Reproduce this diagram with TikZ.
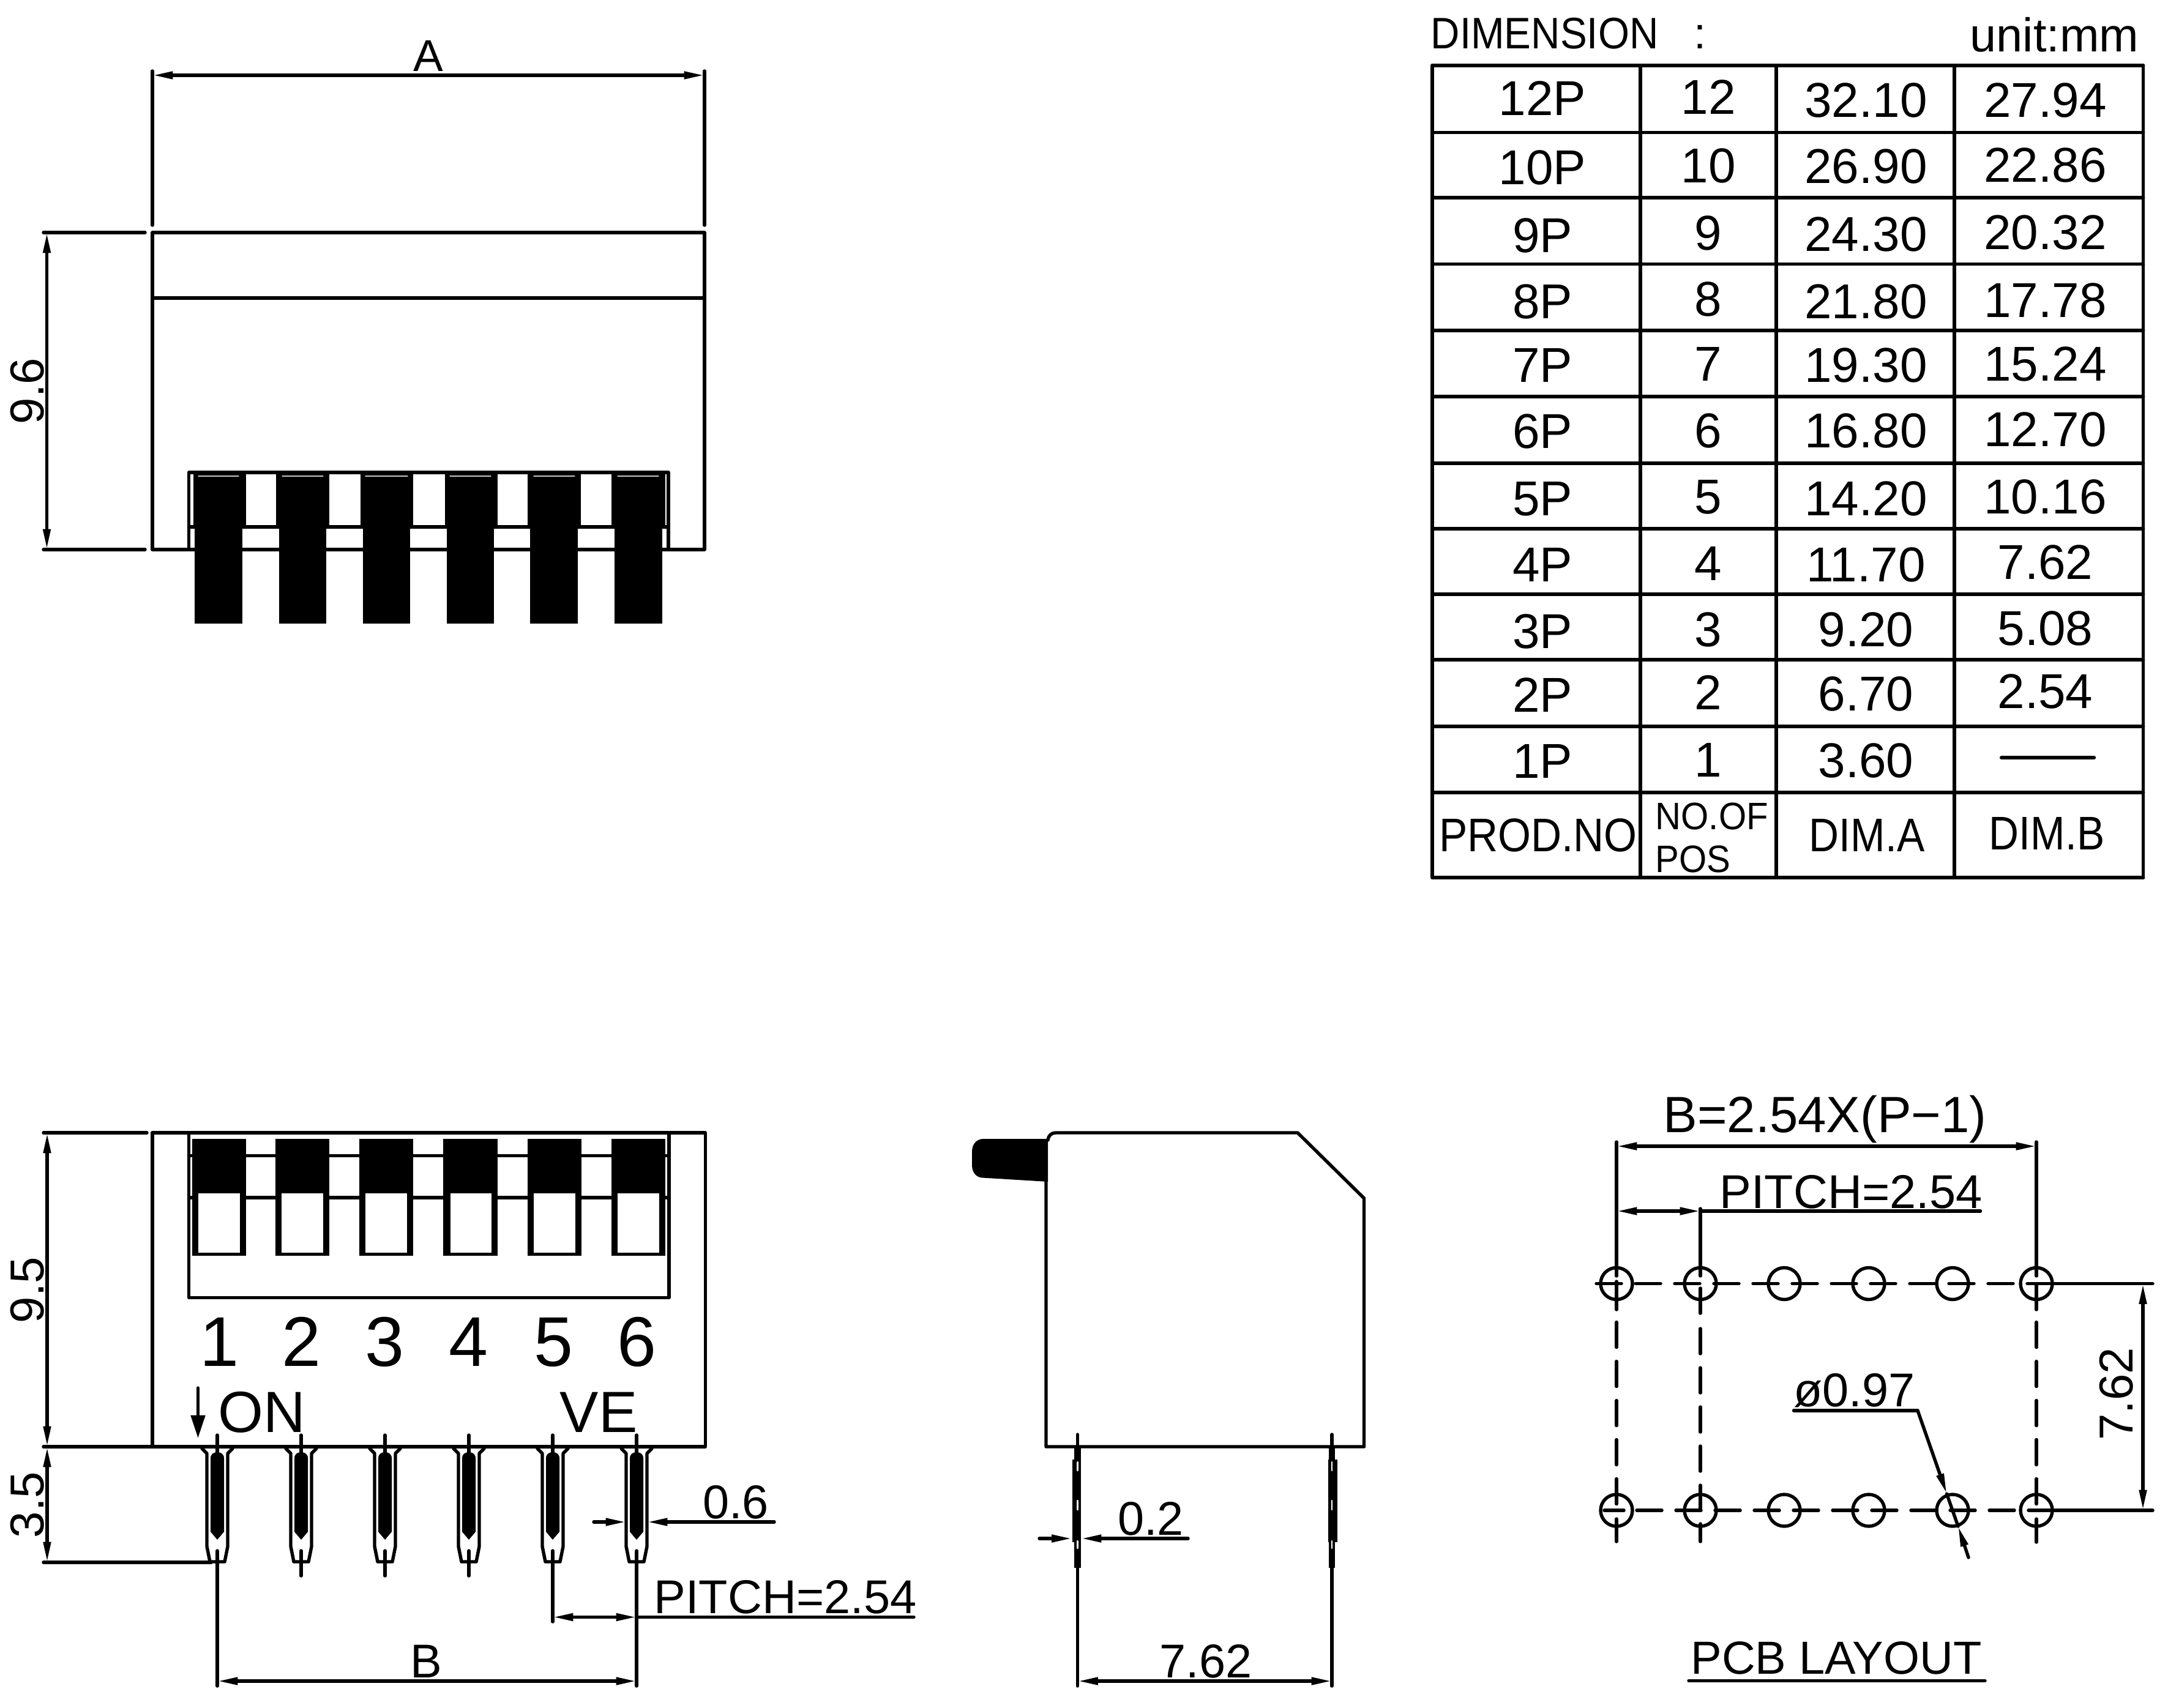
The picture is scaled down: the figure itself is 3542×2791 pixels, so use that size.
\documentclass[tikz,border=0pt]{standalone}
\usepackage{fontspec}
\usepackage{graphicx}
\setmainfont{Liberation Sans}
\usetikzlibrary{arrows.meta}

\tikzset{every picture/.style={line width=1.3pt,line cap=round,line join=round}}
\tikzset{
  dimline/.style={{Triangle[length=8pt,width=2.8pt]}-{Triangle[length=8pt,width=2.8pt]}},
  onetip/.style={-{Triangle[length=8pt,width=2.8pt]}},
  bigtip/.style={-{Triangle[length=9pt,width=5.5pt]}},
  centerline/.style={dash pattern=on 9.84pt off 5.52pt},
  tableline/.style={line width=1.35pt},
  tabletext/.style={anchor=base,inner sep=0pt,font=\fontsize{19.2}{19.2}\selectfont},
  dimtext/.style={anchor=base,inner sep=0pt,font=\fontsize{18.6}{18.6}\selectfont},
  sidetext/.style={anchor=center,inner sep=0pt,rotate=90,font=\fontsize{18.7}{18.7}\selectfont},
  digittext/.style={anchor=base,inner sep=0pt,font=\fontsize{27.6}{27.6}\selectfont},
  marktext/.style={anchor=base west,inner sep=0pt,font=\fontsize{22.8}{22.8}\selectfont},
  glint/.style={line width=0.3pt,draw=gray!45},
  pinglint/.style={line width=0.6pt,draw=white}
}

\begin{document}
\begin{tikzpicture}[x=0.24pt,y=0.24pt,yscale=-1]
\useasboundingbox (0,0) rectangle (3542,2791);

%Top view: body
\draw    (249,380) -- (1151,380) -- (1151,898) -- (249,898) -- cycle ;
\draw    (249,487) -- (1151,487) ;
%Top view: dimensions
\draw    (249,116) -- (249,368) ;
\draw    (1151,116) -- (1151,368) ;
\draw [dimline]   (249,123) -- (1151,123) ;
\draw    (71,380) -- (237,380) ;
\draw    (71,898) -- (237,898) ;
\draw [dimline]   (76.5,380) -- (76.5,898) ;
%Top view: switch frame
\draw    (308.5,898) -- (308.5,772) -- (1092,772) -- (1092,898) ;
\draw    (308.5,861) -- (1092,861) ;
%Top view: levers
\fill (316,772) rectangle (402,861) ;
\fill (451,772) rectangle (538,861) ;
\fill (589,772) rectangle (675,861) ;
\fill (727,772) rectangle (813,861) ;
\fill (862,772) rectangle (949,861) ;
\fill (999,772) rectangle (1087,861) ;
\fill (318,861) rectangle (396,1019) ;
\fill (456,861) rectangle (533,1019) ;
\fill (593,861) rectangle (670,1019) ;
\fill (730,861) rectangle (807,1019) ;
\fill (866,861) rectangle (944,1019) ;
\fill (1004,861) rectangle (1082,1019) ;
\draw [glint]   (324,778) -- (390,778) ;
\draw [glint]   (461,778) -- (528,778) ;
\draw [glint]   (597,778) -- (666,778) ;
\draw [glint]   (735,778) -- (802,778) ;
\draw [glint]   (872,778) -- (939,778) ;
\draw [glint]   (1009,778) -- (1076,778) ;

%Front view: body
\draw    (249,1851) -- (1152.5,1851) -- (1152.5,2364) -- (71,2364) ;
\draw    (249,1851) -- (249,2364) ;
\draw    (71,1851) -- (240,1851) ;
\draw [dimline]   (77,1851) -- (77,2364) ;
\draw [dimline]   (77,2364) -- (77,2553) ;
\draw    (71,2553) -- (345,2553) ;
%Front view: switch frame
\draw    (308.5,1851) -- (308.5,2120.5) -- (1093,2120.5) -- (1093,1851) ;
\draw    (308.5,1888.5) -- (1093,1888.5) ;
\draw    (308.5,1957) -- (1093,1957) ;
%Front view: sliders
\fill (313.5,1861) rectangle (401.5,2052) ;
\fill (450,1861) rectangle (538,2052) ;
\fill (587,1861) rectangle (675,2052) ;
\fill (724,1861) rectangle (812.5,2052) ;
\fill (862,1861) rectangle (950,2052) ;
\fill (999,1861) rectangle (1087,2052) ;
\fill [white] (323.5,1950) rectangle (391.5,2047) ;
\fill [white] (460,1950) rectangle (528,2047) ;
\fill [white] (597,1950) rectangle (665,2047) ;
\fill [white] (735.5,1950) rectangle (802.5,2047) ;
\fill [white] (872,1950) rectangle (940,2047) ;
\fill [white] (1009,1950) rectangle (1077,2047) ;
%Front view: arrow
\draw [bigtip]   (323.5,2268) -- (323.5,2350) ;
%Front view: pins
\draw    (330,2367) -- (338,2375) -- (338,2527) -- (343,2552) -- (367,2552) -- (372,2527) -- (372,2375) -- (380,2367) ;
\draw    (467,2367) -- (475,2375) -- (475,2527) -- (480,2552) -- (504,2552) -- (509,2527) -- (509,2375) -- (517,2367) ;
\draw    (604,2367) -- (612,2375) -- (612,2527) -- (617,2552) -- (641,2552) -- (646,2527) -- (646,2375) -- (654,2367) ;
\draw    (741,2367) -- (749,2375) -- (749,2527) -- (754,2552) -- (778,2552) -- (783,2527) -- (783,2375) -- (791,2367) ;
\draw    (878,2367) -- (886,2375) -- (886,2527) -- (891,2552) -- (915,2552) -- (920,2527) -- (920,2375) -- (928,2367) ;
\draw    (1015,2367) -- (1023,2375) -- (1023,2527) -- (1028,2552) -- (1052,2552) -- (1057,2527) -- (1057,2375) -- (1065,2367) ;
\fill (344,2383) .. controls (344,2376) and (349,2373) .. (355,2373) .. controls (361,2373) and (366,2376) .. (366,2383) -- (366,2503) -- (355,2516) -- (344,2503) -- cycle ;
\fill (481,2383) .. controls (481,2376) and (486,2373) .. (492,2373) .. controls (498,2373) and (503,2376) .. (503,2383) -- (503,2503) -- (492,2516) -- (481,2503) -- cycle ;
\fill (618,2383) .. controls (618,2376) and (623,2373) .. (629,2373) .. controls (635,2373) and (640,2376) .. (640,2383) -- (640,2503) -- (629,2516) -- (618,2503) -- cycle ;
\fill (755,2383) .. controls (755,2376) and (760,2373) .. (766,2373) .. controls (772,2373) and (777,2376) .. (777,2383) -- (777,2503) -- (766,2516) -- (755,2503) -- cycle ;
\fill (892,2383) .. controls (892,2376) and (897,2373) .. (903,2373) .. controls (909,2373) and (914,2376) .. (914,2383) -- (914,2503) -- (903,2516) -- (892,2503) -- cycle ;
\fill (1029,2383) .. controls (1029,2376) and (1034,2373) .. (1040,2373) .. controls (1046,2373) and (1051,2376) .. (1051,2383) -- (1051,2503) -- (1040,2516) -- (1029,2503) -- cycle ;
\draw    (355,2345) -- (355,2375) ;
\draw    (492,2345) -- (492,2375) ;
\draw    (629,2345) -- (629,2375) ;
\draw    (766,2345) -- (766,2375) ;
\draw    (903,2345) -- (903,2375) ;
\draw    (1040,2345) -- (1040,2375) ;
\draw    (355,2534) -- (355,2755) ;
\draw    (492,2534) -- (492,2575) ;
\draw    (629,2534) -- (629,2575) ;
\draw    (766,2534) -- (766,2575) ;
\draw    (903,2534) -- (903,2650) ;
\draw    (1040,2534) -- (1040,2755) ;
%Front view: dimensions
\draw [dimline]   (355,2747) -- (1040,2747) ;
\draw [dimline]   (903,2642.5) -- (1040,2642.5) ;
\draw    (1040,2642.5) -- (1493,2642.5) ;
\draw [onetip]   (970,2487) -- (1023,2487) ;
\draw [onetip]   (1265,2487) -- (1057,2487) ;

%Side view: body
\draw    (1712,1863) .. controls (1713,1855) and (1718,1851) .. (1725,1851) -- (2120,1851) -- (2228.5,1958) -- (2228.5,2364) -- (1709,2364) -- (1709,1931) ;
\fill (1712,1861) -- (1607,1861) .. controls (1595,1861) and (1588,1870) .. (1588,1882) -- (1588,1904) .. controls (1588,1916) and (1595,1924) .. (1605,1924.5) -- (1712,1931) -- cycle ;
%Side view: pins
\draw    (1760.5,2344) -- (1760.5,2755) ;
\draw    (2176,2344) -- (2176,2755) ;
\fill (1755,2364) rectangle (1766,2562) ;
\fill (1751.5,2385) rectangle (1766,2520) ;
\fill (2171,2364) rectangle (2181,2562) ;
\fill (2170,2385) rectangle (2185,2520) ;
\draw [pinglint]   (1760.5,2389) -- (1760.5,2403) ;
\draw [pinglint]   (1760.5,2452) -- (1760.5,2467) ;
\draw [pinglint]   (1760.5,2518) -- (1760.5,2530) ;
\draw [pinglint]   (2176,2389) -- (2176,2403) ;
\draw [pinglint]   (2176,2452) -- (2176,2467) ;
\draw [pinglint]   (2176,2518) -- (2176,2530) ;
%Side view: dimensions
\draw [onetip]   (1698,2514) -- (1751.5,2514) ;
\draw [onetip]   (1941,2514) -- (1766,2514) ;
\draw [dimline]   (1760.5,2747) -- (2176,2747) ;

%Pcb layout: holes
\draw    (2641,2097.5) circle (26) ;
\draw    (2778,2097.5) circle (26) ;
\draw    (2915,2097.5) circle (26) ;
\draw    (3053,2097.5) circle (26) ;
\draw    (3190,2097.5) circle (26) ;
\draw    (3327,2097.5) circle (26) ;
\draw    (2641,2468) circle (26) ;
\draw    (2778,2468) circle (26) ;
\draw    (2915,2468) circle (26) ;
\draw    (3053,2468) circle (26) ;
\draw    (3190,2468) circle (26) ;
\draw    (3327,2468) circle (26) ;
%Pcb layout: centre lines
\draw [centerline]   (2608,2097.5) -- (3327,2097.5) ;
\draw    (3327,2097.5) -- (3517,2097.5) ;
\draw    (2621,2468) -- (2653,2468) ;
\draw [centerline]   (2674,2468) -- (3327,2468) ;
\draw    (3327,2468) -- (3517,2468) ;
\draw    (2641,1866) -- (2641,2085) ;
\draw    (2641,2094) -- (2641,2140) ;
\draw [centerline]   (2641,2160.5) -- (2641,2462) ;
\draw    (2641,2482) -- (2641,2519) ;
\draw    (2778,1975) -- (2778,2085) ;
\draw    (2778,2105) -- (2778,2146) ;
\draw [centerline]   (2778,2171) -- (2778,2467) ;
\draw    (2778,2490) -- (2778,2519) ;
\draw    (3327,1866) -- (3327,2085) ;
\draw    (3327,2100) -- (3327,2140) ;
\draw [centerline]   (3327,2160.5) -- (3327,2462) ;
\draw    (3327,2482) -- (3327,2520) ;
%Pcb layout: dimensions
\draw [dimline]   (2641,1873) -- (3327,1873) ;
\draw [dimline]   (2641,1979) -- (2778,1979) ;
\draw    (2778,1979) -- (3235.5,1979) ;
\draw [dimline]   (3501,2097.5) -- (3501,2468) ;
\draw    (2930.5,2305) -- (3133,2305) ;
\draw [onetip]   (3133,2305) -- (3180.5,2441) ;
\draw    (3180.5,2441) -- (3199,2494) ;
\draw [onetip]   (3216,2545) -- (3199,2494) ;
\draw    (2759,2746.5) -- (3243,2746.5) ;

%Table: rules
\draw [tableline]   (2340,107) -- (3501.5,107) ;
\draw [tableline]   (2340,216.5) -- (3501.5,216.5) ;
\draw [tableline]   (2340,323) -- (3501.5,323) ;
\draw [tableline]   (2340,431.5) -- (3501.5,431.5) ;
\draw [tableline]   (2340,540) -- (3501.5,540) ;
\draw [tableline]   (2340,648) -- (3501.5,648) ;
\draw [tableline]   (2340,757) -- (3501.5,757) ;
\draw [tableline]   (2340,864) -- (3501.5,864) ;
\draw [tableline]   (2340,971) -- (3501.5,971) ;
\draw [tableline]   (2340,1078) -- (3501.5,1078) ;
\draw [tableline]   (2340,1187) -- (3501.5,1187) ;
\draw [tableline]   (2340,1295) -- (3501.5,1295) ;
\draw [tableline]   (2340,1434) -- (3501.5,1434) ;
\draw [tableline]   (2340,107) -- (2340,1434) ;
\draw [tableline]   (2680,107) -- (2680,1434) ;
\draw [tableline]   (2902,107) -- (2902,1434) ;
\draw [tableline]   (3193,107) -- (3193,1434) ;
\draw [tableline]   (3501.5,107) -- (3501.5,1434) ;
\draw [line width=1.5pt]   (3270,1238) -- (3421,1238) ;

% Text Node
\draw (700,116.5) node (dimA) [dimtext,font=\fontsize{17.5}{17.5}\selectfont] {A};
\draw (45,639) node (topheight) [sidetext] {9.6};
\draw (45,2108) node (frontheight) [sidetext] {9.5};
\draw (45,2459) node (pinlength) [sidetext] {3.5};
% Text Node
\draw (358,2232) node (num1) [digittext] {1};
\draw (492,2232) node (num2) [digittext] {2};
\draw (628.5,2232) node (num3) [digittext] {3};
\draw (765,2232) node (num4) [digittext] {4};
\draw (904,2232) node (num5) [digittext] {5};
\draw (1040,2232) node (num6) [digittext] {6};
\draw (354,2340) node (markon) [marktext] {ON};
\draw (912,2340) node (markve) [marktext] {VE};
% Text Node
\draw (1202,2481) node (pinwidth) [dimtext] {0.6};
\draw (1066,2636.5) node (frontpitch) [dimtext,anchor=base west] {PITCH=2.54};
\draw (696.5,2741) node (dimB) [dimtext] {B};
\draw (1880,2508) node (pinthick) [dimtext] {0.2};
\draw (1970,2741) node (sidepitch) [dimtext] {7.62};
% Text Node
\draw (2981.5,1850) node (pcbformula) [dimtext,font=\fontsize{20}{20}\selectfont] {B=2.54X(P−1)};
\draw (3024,1974) node (pcbpitch) [dimtext] {PITCH=2.54};
\draw (3029.5,2298) node (pcbhole) [dimtext] {ø0.97};
\draw (3458,2278) node (pcbrow) [sidetext] {7.62};
\draw (3000,2735) node (pcbtitle) [dimtext,font=\fontsize{18.2}{18.2}\selectfont] {PCB LAYOUT};
% Text Node
\draw (2335,80) node (tabletitle) [tabletext,anchor=base west,font=\fontsize{17.3}{17.3}\selectfont] {\scalebox{0.91}[1]{DIMENSION}};
\draw (2777.5,80) node (tablecolon) [tabletext,font=\fontsize{17.3}{17.3}\selectfont] {:};
\draw (3497,85) node (tableunit) [tabletext,anchor=base east,font=\fontsize{18.6}{18.6}\selectfont] {unit:mm};
% Text Node
\draw (2520,189) node (r12a) [tabletext] {12P};
\draw (2791,187) node (r12b) [tabletext] {12};
\draw (3048.5,191.5) node (r12c) [tabletext] {32.10};
\draw (3341.5,191.5) node (r12d) [tabletext] {27.94};
\draw (2520,301.5) node (r10a) [tabletext] {10P};
\draw (2791,299) node (r10b) [tabletext] {10};
\draw (3048.5,300) node (r10c) [tabletext] {26.90};
\draw (3341.5,297.5) node (r10d) [tabletext] {22.86};
\draw (2520,412.5) node (r9a) [tabletext] {9P};
\draw (2791,409) node (r9b) [tabletext] {9};
\draw (3048.5,410.5) node (r9c) [tabletext] {24.30};
\draw (3341.5,407.5) node (r9d) [tabletext] {20.32};
\draw (2520,521) node (r8a) [tabletext] {8P};
\draw (2791,516.5) node (r8b) [tabletext] {8};
\draw (3048.5,521) node (r8c) [tabletext] {21.80};
\draw (3341.5,518.5) node (r8d) [tabletext] {17.78};
\draw (2520,625) node (r7a) [tabletext] {7P};
\draw (2791,623) node (r7b) [tabletext] {7};
\draw (3048.5,625) node (r7c) [tabletext] {19.30};
\draw (3341.5,622.5) node (r7d) [tabletext] {15.24};
\draw (2520,733) node (r6a) [tabletext] {6P};
\draw (2791,731) node (r6b) [tabletext] {6};
\draw (3048.5,731) node (r6c) [tabletext] {16.80};
\draw (3341.5,729) node (r6d) [tabletext] {12.70};
\draw (2520,842) node (r5a) [tabletext] {5P};
\draw (2791,839.5) node (r5b) [tabletext] {5};
\draw (3048.5,842) node (r5c) [tabletext] {14.20};
\draw (3341.5,839.5) node (r5d) [tabletext] {10.16};
\draw (2520,950) node (r4a) [tabletext] {4P};
\draw (2791,948) node (r4b) [tabletext] {4};
\draw (3048.5,950) node (r4c) [tabletext] {11.70};
\draw (3341.5,946) node (r4d) [tabletext] {7.62};
\draw (2520,1059) node (r3a) [tabletext] {3P};
\draw (2791,1056) node (r3b) [tabletext] {3};
\draw (3048.5,1056) node (r3c) [tabletext] {9.20};
\draw (3341.5,1054) node (r3d) [tabletext] {5.08};
\draw (2520,1163) node (r2a) [tabletext] {2P};
\draw (2791,1159) node (r2b) [tabletext] {2};
\draw (3048.5,1161.5) node (r2c) [tabletext] {6.70};
\draw (3341.5,1157) node (r2d) [tabletext] {2.54};
\draw (2520,1271.5) node (r1a) [tabletext] {1P};
\draw (2791,1269) node (r1b) [tabletext] {1};
\draw (3048.5,1270) node (r1c) [tabletext] {3.60};
% Text Node
\draw (2513,1391.5) node (headprod) [tabletext,font=\fontsize{18.5}{18.5}\selectfont] {\scalebox{0.9}[1]{PROD.NO}};
\draw (2702,1355) node (headno) [tabletext,anchor=base west,font=\fontsize{15}{15}\selectfont] {\scalebox{0.93}[1]{NO.OF}};
\draw (2702,1425) node (headpos) [tabletext,anchor=base west,font=\fontsize{15}{15}\selectfont] {\scalebox{0.93}[1]{POS}};
\draw (3050,1391.5) node (headA) [tabletext,font=\fontsize{18.5}{18.5}\selectfont] {\scalebox{0.88}[1]{DIM.A}};
\draw (3344,1388) node (headB) [tabletext,font=\fontsize{18.5}{18.5}\selectfont] {\scalebox{0.88}[1]{DIM.B}};

\end{tikzpicture}
\end{document}
